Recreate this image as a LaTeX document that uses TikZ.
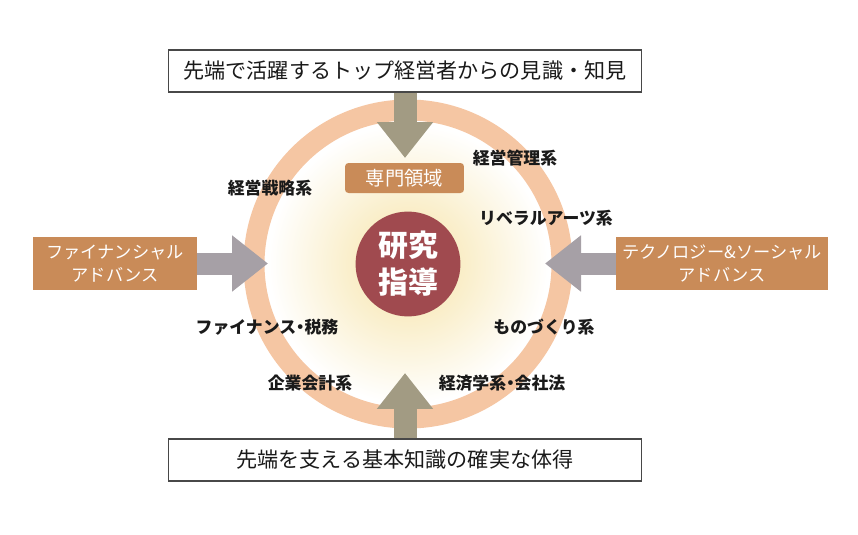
\documentclass[tikz,border=0pt]{standalone}
\usepackage{fontspec}
\setmainfont{Noto Sans CJK JP}
\usetikzlibrary{arrows.meta}
\definecolor{ringpeach}{HTML}{F5C6A3}
\definecolor{boxbrown}{HTML}{C98B58}
\definecolor{khaki}{HTML}{A29B83}
\definecolor{mauve}{HTML}{A6A0A6}
\definecolor{core}{HTML}{A04A4F}
\definecolor{glow}{HTML}{F6E3A6}
\definecolor{ink}{HTML}{1A1A1A}
\newcommand{\middot}{\kern-.25em・\kern-.25em}
\tikzset{
  framebox/.style={draw=ink!80, line width=.6pt, fill=white, minimum width=9.46cm,
    minimum height=.84cm, font=\fontsize{12}{13}\selectfont, text=ink},
  sidebox/.style={fill=boxbrown, minimum width=3.28cm, minimum height=1.06cm,
    align=center, font=\fontsize{9.8}{13}\selectfont, text=white},
  fieldbox/.style={fill=boxbrown, rounded corners=2pt, minimum width=2.38cm,
    minimum height=.6cm, font=\fontsize{11}{12}\selectfont, text=white},
  area/.style={font=\bfseries\fontsize{9.6}{11}\selectfont, text=ink},
  vflow/.style={draw=khaki, line width=.46cm, -{Triangle[length=.72cm, width=1.08cm]}},
  hflow/.style={draw=mauve, line width=.44cm, -{Triangle[length=.72cm, width=1.08cm]}}
}
\begin{document}
\begin{tikzpicture}[x=0.02cm,y=-0.02cm]
  \useasboundingbox (0,0) rectangle (858,534);
  \coordinate (c) at (408,264);

  % glow and ring
  \shade[inner color=glow, outer color=white] (c) circle (140);
  \draw[ringpeach, line width=.42cm] (c) circle (154);

  % frames
  \node[framebox] (top) at (405,71) {先端で活躍するトップ経営者からの見識・知見};
  \node[framebox] (bottom) at (405,460) {先端を支える基本知識の確実な体得};
  \node[sidebox] (finance) at (115,263.5) {ファイナンシャル\\アドバンス};
  \node[sidebox] (techno) at (722,263.5) {テクノロジー\&ソーシャル\\アドバンス};

  \node[fieldbox] (field) at (404.5,178) {専門領域};
  \node[circle, fill=core, minimum size=2.08cm, align=center, text=white,
    font=\bfseries\fontsize{17}{21}\selectfont] (guide) at (c) {研究\\指導};

  % flows
  \coordinate (toptip) at (405,158);
  \coordinate (bottip) at (405,373);
  \coordinate (lefttip) at (268,263.5);
  \coordinate (righttip) at (545,263.5);
  \draw[vflow] (top.south) -- (toptip);
  \draw[vflow] (bottom.north) -- (bottip);
  \draw[hflow] (finance.east) -- (lefttip);
  \draw[hflow] (techno.west) -- (righttip);

  % fields
  \node[area] (mgmt) at (515,158) {経営管理系};
  \node[area] (strat) at (270,188) {経営戦略系};
  \node[area] (arts) at (546,218) {リベラルアーツ系};
  \node[area] (tax) at (267,327) {ファイナンス\middot 税務};
  \node[area] (make) at (544,327) {ものづくり系};
  \node[area] (acct) at (310,383) {企業会計系};
  \node[area] (econ) at (502,383) {経済学系\middot 会社法};
\end{tikzpicture}
\end{document}
